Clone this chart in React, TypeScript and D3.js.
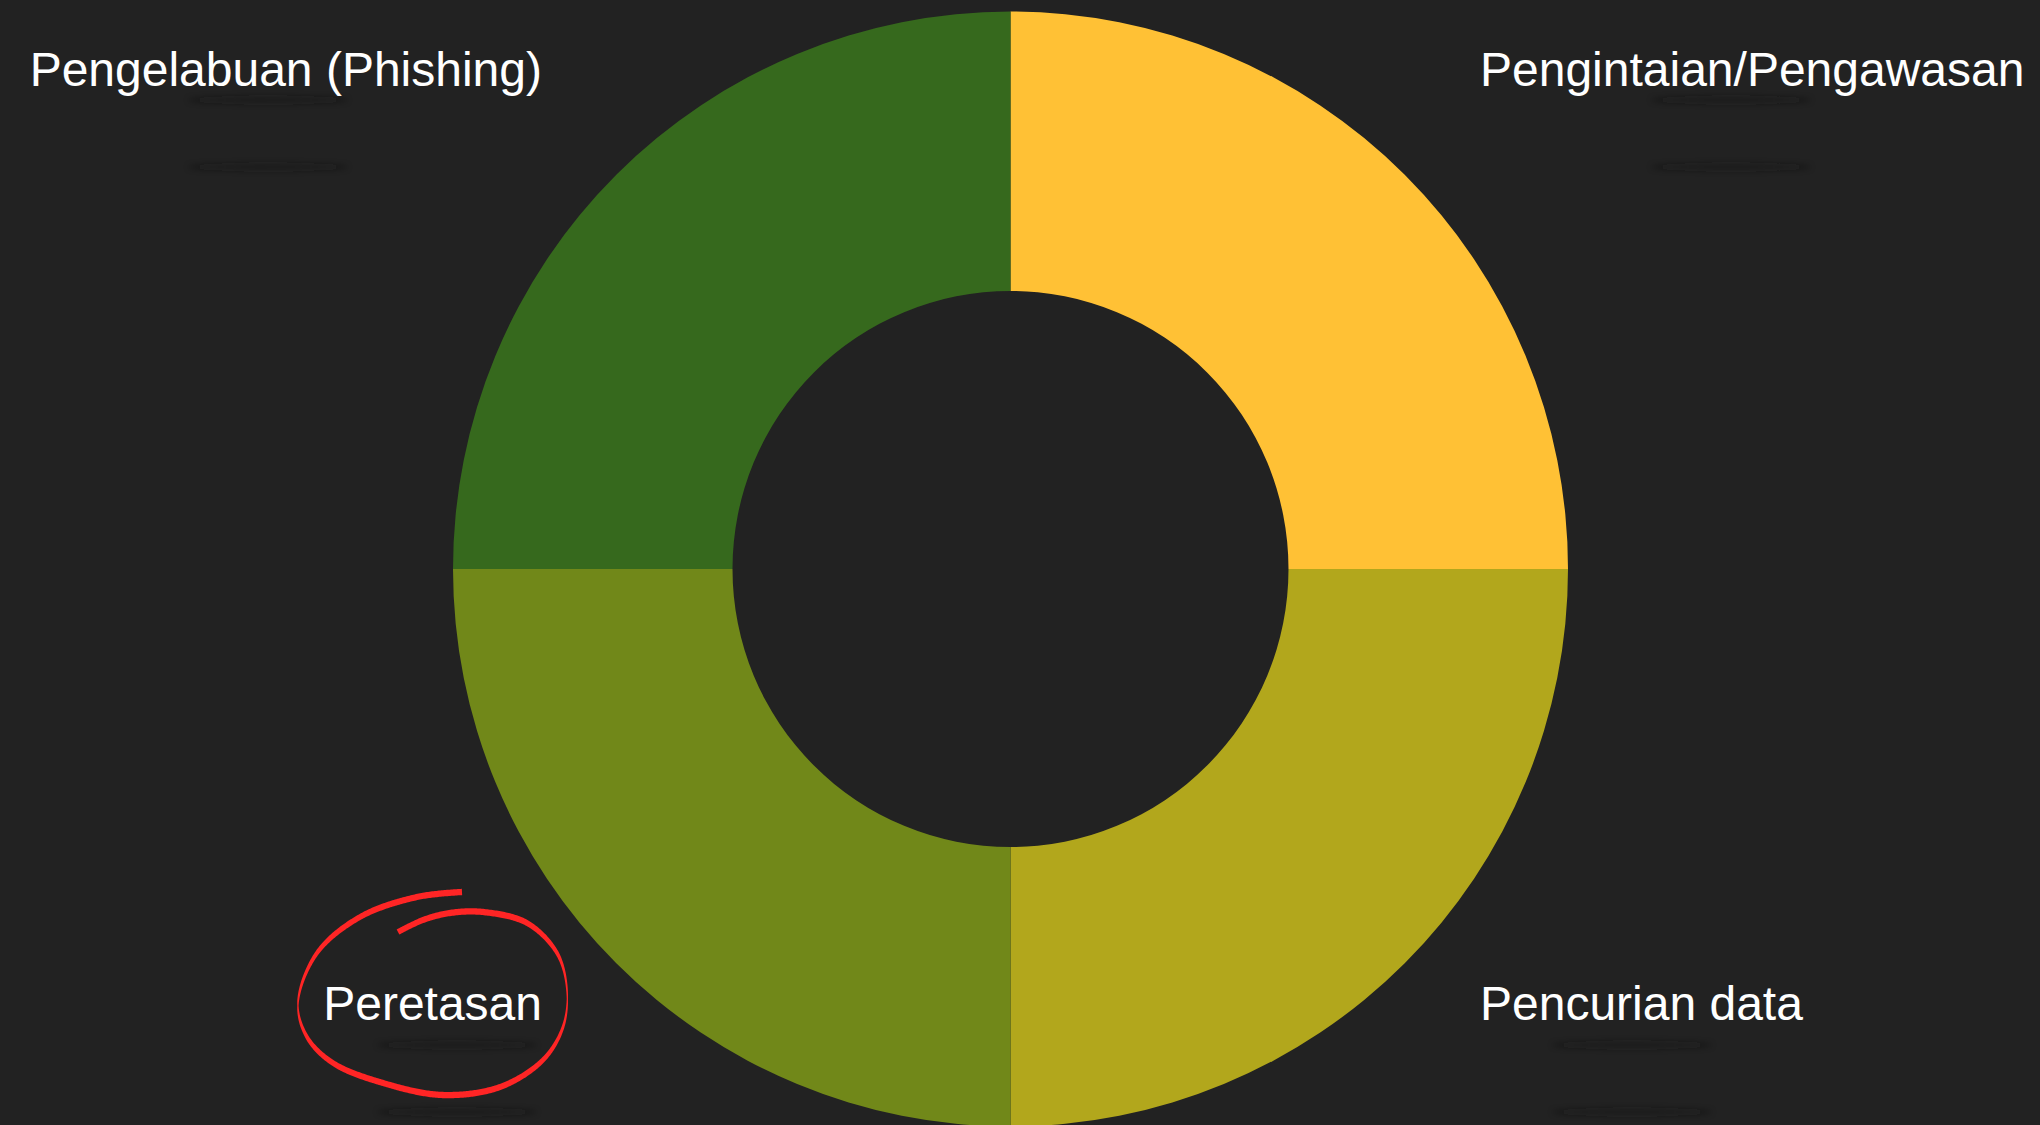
import React, { useEffect, useRef, useState } from "react";
import * as d3 from "d3";

const categories = ["Pengintaian/Pengawasan", "Pencurian data", "Peretasan", "Pengelabuan (Phishing)"];
const values = [25, 25, 25, 25];
const sliceColors = ["#ffc135", "#b2a71c", "#718819", "#36691d"];

const W = 2040;
const H = 1125;
const CX = 1010.5;
const CY = 569;
const R_OUT = 557.5;
const R_IN = 278;

// label layout: [x, baseline y, anchor, shadow centre x, shadow offsets]
const labelLayout: { x: number; y: number; anchor: "start" | "end"; sx: number; s1: number; s2: number }[] = [
  { x: 1480, y: 86, anchor: "start", sx: 1731, s1: 14, s2: 81 },
  { x: 1480, y: 1020, anchor: "start", sx: 1632, s1: 25, s2: 92 },
  { x: 542, y: 1020, anchor: "end", sx: 457, s1: 25, s2: 92 },
  { x: 542, y: 86, anchor: "end", sx: 268, s1: 14, s2: 81 },
];

// guide points of the hand-drawn red ring around "Peretasan"
const ringGuide: [number, number][] = [
  [462, 892], [417, 897], [360, 917], [317, 953], [298, 1003], [307, 1037], [333, 1063],
  [383, 1083], [443, 1095], [500, 1087], [543, 1060], [563, 1027], [567, 990], [557, 953],
  [527, 923], [483, 912], [450, 913], [423, 920], [398, 932],
];

export default function App() {
  const pie = d3
    .pie<number>()
    .sort(null)
    .value((d) => d);
  const arcs = pie(values);
  const arcGen = d3.arc<d3.PieArcDatum<number>>().innerRadius(R_IN).outerRadius(R_OUT);

  const ringLine = d3.line().curve(d3.curveCatmullRom.alpha(0.5))(ringGuide) || "";
  const guideRef = useRef<SVGPathElement>(null);
  const [ringPoly, setRingPoly] = useState("");

  useEffect(() => {
    const p = guideRef.current;
    if (!p) return;
    const L = p.getTotalLength();
    const N = 600;
    const left: [number, number][] = [];
    const right: [number, number][] = [];
    for (let i = 0; i <= N; i++) {
      const s = (L * i) / N;
      const pt = p.getPointAtLength(s);
      const a = p.getPointAtLength(Math.max(0, s - 0.8));
      const b = p.getPointAtLength(Math.min(L, s + 0.8));
      let tx = b.x - a.x;
      let ty = b.y - a.y;
      const len = Math.hypot(tx, ty) || 1;
      tx /= len;
      ty /= len;
      const w = 1.3 + 5.0 * Math.abs(tx);
      const nx = -ty;
      const ny = tx;
      left.push([pt.x + (nx * w) / 2, pt.y + (ny * w) / 2]);
      right.push([pt.x - (nx * w) / 2, pt.y - (ny * w) / 2]);
    }
    const pts = left.concat(right.reverse());
    setRingPoly("M" + pts.map((q) => q[0].toFixed(2) + "," + q[1].toFixed(2)).join("L") + "Z");
  }, [ringLine]);

  return (
    <div style={{ position: "fixed", left: 0, top: 0, width: W, height: H, background: "#222222" }}>
      <svg width={W} height={H} style={{ display: "block" }}>
        <defs>
          <filter id="shadowBlur" x="-50%" y="-300%" width="200%" height="700%">
            <feGaussianBlur stdDeviation="3" />
          </filter>
        </defs>
        <rect x={0} y={0} width={W} height={H} fill="#222222" />
        <g transform={`translate(${CX},${CY})`}>
          {arcs.map((a, i) => (
            <path key={i} d={arcGen(a) || ""} fill={sliceColors[i]} />
          ))}
        </g>
        {categories.map((c, i) => {
          const l = labelLayout[i];
          return (
            <g key={c}>
              <ellipse cx={l.sx} cy={l.y + l.s1} rx={80} ry={2.5} fill="#121212" opacity={0.65} filter="url(#shadowBlur)" />
              <ellipse cx={l.sx} cy={l.y + l.s2} rx={80} ry={2.5} fill="#121212" opacity={0.65} filter="url(#shadowBlur)" />
              <text
                x={l.x}
                y={l.y}
                textAnchor={l.anchor}
                fill="#ffffff"
                fontFamily="'Liberation Sans', Arial, sans-serif"
                fontSize={48}
              >
                {c}
              </text>
            </g>
          );
        })}
        <path ref={guideRef} d={ringLine} fill="none" stroke="none" />
        {ringPoly ? (
          <path d={ringPoly} fill="#ff2525" stroke="none" />
        ) : (
          <path d={ringLine} fill="none" stroke="#ff2525" strokeWidth={4.5} />
        )}
      </svg>
    </div>
  );
}
